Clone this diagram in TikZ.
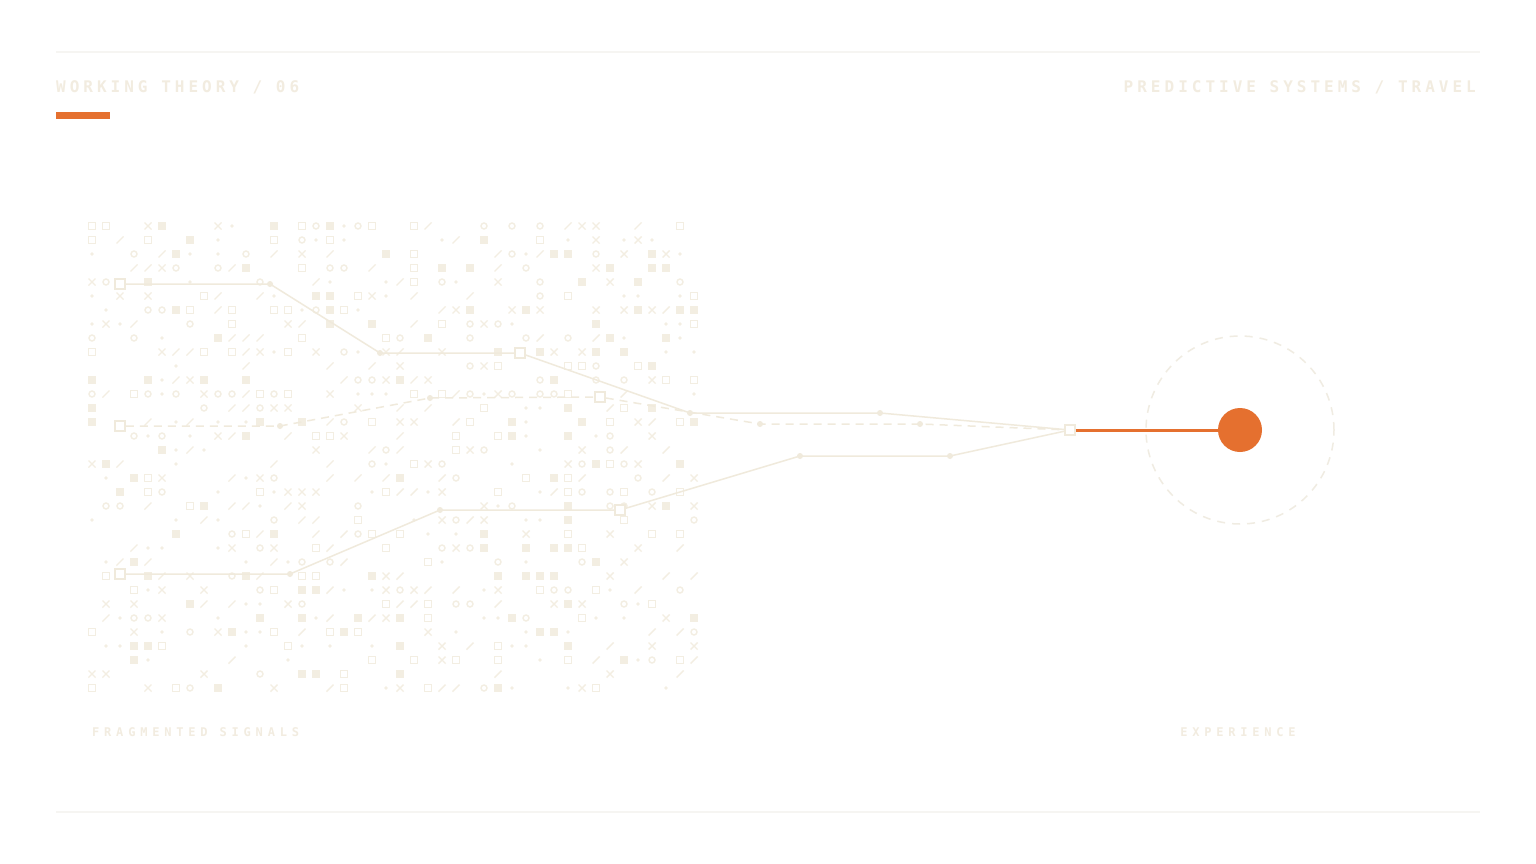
\documentclass[tikz,border=0pt]{standalone}
\usepackage{fontspec}
\newfontfamily\headfont[LetterSpace=25]{DejaVu Sans Mono}
\newfontfamily\capfont[LetterSpace=40]{DejaVu Sans Mono}
\definecolor{glyphc}{RGB}{243,238,226}
\definecolor{tracec}{RGB}{240,234,220}
\definecolor{textc}{RGB}{242,236,224}
\definecolor{rulec}{RGB}{246,245,242}
\definecolor{accent}{RGB}{229,112,47}
\definecolor{haloc}{RGB}{240,236,226}
\tikzset{
  glyph/.style={draw=glyphc, line width=1.4pt},
  trace/.style={draw=tracec, line width=1.5pt},
  dtrace/.style={trace, dash pattern=on 8pt off 6pt},
  sqm/.style={rectangle, draw=tracec, fill=white, line width=1.5pt, minimum size=10pt, inner sep=0pt},
  dotm/.style={circle, fill=tracec, minimum size=6pt, inner sep=0pt},
  head/.style={text=textc, inner sep=0pt, font=\headfont\bfseries\fontsize{16}{16}\selectfont},
  capt/.style={text=textc, inner sep=0pt, font=\capfont\bfseries\fontsize{12}{12}\selectfont},
  rulel/.style={draw=rulec, line width=1.5pt},
}
\begin{document}
\begin{tikzpicture}[x=1pt,y=-1pt]
\useasboundingbox[fill=white] (0,0) rectangle (1536,864);
% rules
\coordinate (r1a) at (56,52); \coordinate (r1b) at (1480,52);
\coordinate (r2a) at (56,812); \coordinate (r2b) at (1480,812);
\draw[rulel] (r1a) -- (r1b);
\draw[rulel] (r2a) -- (r2b);
% headers
\node[head, anchor=base west] (title) at (56,92.5) {WORKING THEORY / 06};
\node[head, anchor=base east] (subject) at (1476,92.5) {PREDICTIVE SYSTEMS / TRAVEL};
\fill[accent] (56,112) rectangle (110,119);
% glyph field
\pgfmathsetseed{4217}
\foreach \x in {92,106,...,694}{
  \foreach \y in {226,240,...,688}{
    \pgfmathrandominteger{\g}{0}{12}
    \ifcase\g
      \fill[glyphc] (\x,\y) circle (1.8);
    \or
      \draw[glyph] (\x,\y) circle (3);
    \or
      \draw[glyph] (\x-3.5,\y+3.5) -- (\x+3.5,\y-3.5);
    \or
      \fill[glyphc] (\x-3.6,\y-3.6) rectangle (\x+3.6,\y+3.6);
    \or
      \draw[glyph] (\x-3.3,\y-3.3) rectangle (\x+3.3,\y+3.3);
    \or
      \draw[glyph] (\x-3.5,\y-3.5) -- (\x+3.5,\y+3.5) (\x-3.5,\y+3.5) -- (\x+3.5,\y-3.5);
    \else
    \fi
  }
}
% halo and experience
\node[circle, draw=haloc, line width=1.5pt, dash pattern=on 8pt off 7pt, minimum size=188pt, inner sep=0pt] (halo) at (1240,430) {};
\node[circle, fill=accent, minimum size=44pt, inner sep=0pt] (exp) at (1240,430) {};
% end node
\node[sqm] (e) at (1070,430) {};
% top path
\node[sqm] (a0) at (120,284) {};
\node[dotm] (a1) at (270,284) {};
\node[dotm] (a2) at (380,353) {};
\node[sqm] (a3) at (520,353) {};
\node[dotm] (a4) at (690,413) {};
\node[dotm] (a5) at (880,413) {};
% dashed path
\node[sqm] (b0) at (120,426) {};
\node[dotm] (b1) at (280,426) {};
\node[dotm] (b2) at (430,398) {};
\node[sqm] (b3) at (600,397) {};
\node[dotm] (b4) at (760,424) {};
\node[dotm] (b5) at (920,424) {};
% bottom path
\node[sqm] (c0) at (120,574) {};
\node[dotm] (c1) at (290,574) {};
\node[dotm] (c2) at (440,510) {};
\node[sqm] (c3) at (620,510) {};
\node[dotm] (c4) at (800,456) {};
\node[dotm] (c5) at (950,456) {};
\draw[trace] (a0) -- (a1.center) -- (a2.center) -- (a3) -- (a4.center) -- (a5.center) -- (e);
\draw[dtrace] (b0) -- (b1.center) -- (b2.center) -- (b3) -- (b4.center) -- (b5.center) -- (e);
\draw[trace] (c0) -- (c1.center) -- (c2.center) -- (c3) -- (c4.center) -- (c5.center) -- (e);
\foreach \n in {a0,a3,b0,b3,c0,c3,e}{\node[sqm] at (\n) {};}
\draw[accent, line width=3pt] (e.east) -- (exp);
% captions
\node[capt, anchor=base west] (fragcap) at (92,736) {FRAGMENTED SIGNALS};
\node[capt, anchor=base] (expcap) at (1238,736) {EXPERIENCE};
\end{tikzpicture}
\end{document}
